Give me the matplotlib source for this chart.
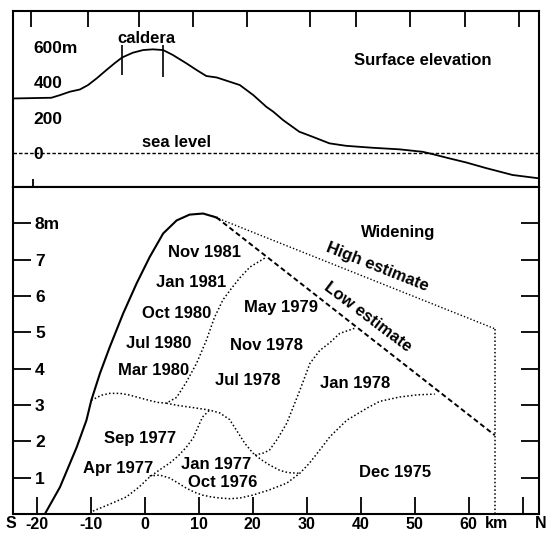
import matplotlib
matplotlib.use("Agg")
import matplotlib.pyplot as plt

plt.rcParams["font.family"] = ["Liberation Sans", "DejaVu Sans"]
plt.rcParams["font.weight"] = "bold"

# ---- Surface elevation profile along the fissure swarm (km, m) ----
elev_km = [-24.5, -17.3, -15.7, -13.9, -12.0, -10.5, -8.9, -7.1, -5.6, -4.2, -2.2,
           -0.3, 1.5, 3.4, 5.2, 7.7, 9.6, 11.4, 13.3, 15.7, 17.6, 20.1, 22.5, 23.8,
           25.6, 28.6, 31.1, 34.2, 37.3, 42.2, 47.2, 51.5, 53.3, 56.4, 59.5, 63.2,
           68.1, 73.0]
elev_m = [309, 313, 328, 347, 360, 385, 423, 470, 508, 541, 568,
          583, 587, 583, 555, 508, 470, 436, 428, 404, 385, 328, 262, 234,
          187, 121, 92, 55, 41, 30, 21, 7, -6, -30, -53, -85,
          -124, -143]

caldera_km = [-4.26, 3.33]
caldera_top = [611, 611]
caldera_bottom = [441, 430]

# ---- Widening profiles (km, m) ----
nov1981_km = [-18.5, -15.7, -12.6, -10.8, -9.9, -8.3, -6.5, -4.0, -1.5, 0.9, 3.4,
              5.9, 8.3, 10.8, 13.3]
nov1981_m = [0.0, 0.74, 1.84, 2.58, 3.13, 3.87, 4.59, 5.52, 6.35, 7.07, 7.72,
             8.08, 8.24, 8.27, 8.16]

low_km = [13.3, 64.8]
low_m = [8.16, 2.17]
high_km = [12.5, 64.8]
high_m = [8.2, 5.1]
edge_km = [64.8, 64.8]
edge_m = [5.1, 0.0]

mar1980_km = [-9.9, -8.0, -6.5, -4.6, -3.0, -1.0, 1.0, 2.5, 4.0, 5.9, 7.7, 9.6,
              11.4, 12.9, 14.5, 16.0, 17.6, 19.5, 22.3]
mar1980_m = [3.13, 3.27, 3.32, 3.32, 3.28, 3.2, 3.12, 3.07, 3.05, 3.21, 3.63, 4.15,
             4.78, 5.41, 5.9, 6.2, 6.5, 6.8, 7.05]

sep1977_km = [4.0, 6.0, 8.9, 12.0, 13.9, 15.7, 17.0, 18.5, 20.0, 21.5, 23.1, 25.0,
              26.5, 28.7]
sep1977_m = [3.05, 2.99, 2.93, 2.86, 2.78, 2.6, 2.3, 1.95, 1.68, 1.5, 1.35, 1.2,
             1.14, 1.12]

nov1978_km = [20.4, 22.0, 23.1, 24.5, 26.3, 27.5, 28.7, 30.6, 32.4, 34.3, 36.1, 39.2]
nov1978_m = [1.62, 1.68, 1.76, 2.05, 2.5, 2.95, 3.4, 4.15, 4.5, 4.72, 4.97, 5.13]

apr1977_km = [-9.6, -6.5, -3.4, -1.0, 0.9, 2.8, 4.6, 6.2, 7.7, 9.0, 9.6, 10.7, 12.0]
apr1977_m = [0.08, 0.27, 0.47, 0.75, 1.02, 1.22, 1.4, 1.6, 1.84, 2.1, 2.31, 2.67, 2.86]

oct1976_km = [0.9, 2.8, 4.6, 6.2, 7.7, 9.2, 10.7, 12.3, 13.9, 15.8, 17.6, 20.0, 23.0,
              26.3, 28.7, 30.5, 32.4, 34.3, 37.4, 41.1, 43.5, 47.2, 50.5, 53.7]
oct1976_m = [1.05, 1.07, 0.99, 0.85, 0.71, 0.6, 0.52, 0.47, 0.44, 0.42, 0.44, 0.52, 0.66,
             0.85, 1.12, 1.4, 1.76, 2.13, 2.58, 2.91, 3.1, 3.22, 3.28, 3.3]

# ---- Date labels (text, km, m) ----
date_labels = [
    ("Nov 1981", 11.1, 7.2), ("Jan 1981", 8.5, 6.37), ("Oct 1980", 5.9, 5.52),
    ("Jul 1980", 2.6, 4.7), ("Mar 1980", 1.7, 3.96), ("May 1979", 25.2, 5.69),
    ("Nov 1978", 22.6, 4.64), ("Jul 1978", 19.1, 3.68), ("Jan 1978", 38.9, 3.6),
    ("Sep 1977", -0.9, 2.09), ("Apr 1977", -5.0, 1.26), ("Jan 1977", 13.3, 1.35),
    ("Oct 1976", 14.4, 0.88), ("Dec 1975", 46.3, 1.13),
]

bottom_ticks = [-20, -10, 0, 10, 20, 30, 40, 50, 60, 70]
bottom_tick_labels = ["-20", "-10", "0", "10", "20", "30", "40", "50", "60", ""]
top_ticks = [-21.1, -10.6, -1.1, 8.9, 18.9, 30.6, 39.1, 49.1, 59.3, 69.3]
elev_ticks = [0, 200, 400, 600]
elev_tick_labels = ["0", "200", "400", "600m"]
width_ticks = [1, 2, 3, 4, 5, 6, 7, 8]
width_tick_labels = ["1", "2", "3", "4", "5", "6", "7", "8m"]

XMIN, XMAX = -24.4, 73.0
FS = 12
DOT = (0, (1.0, 1.5))

fig = plt.figure(figsize=(5.46, 5.33), dpi=100)
W, H = 546.0, 533.0
left, right = 13 / W, 539 / W
ax_top = fig.add_axes([left, 1 - 187 / H, right - left, (187 - 11) / H])
ax_bot = fig.add_axes([left, 1 - 514 / H, right - left, (514 - 187) / H])

for ax in (ax_top, ax_bot):
    ax.set_xlim(XMIN, XMAX)
    for sp in ax.spines.values():
        sp.set_linewidth(1.5)

# ---- Upper panel: surface elevation ----
ax_top.set_ylim(-192, 804)
ax_top.plot(elev_km, elev_m, color="black", lw=1.3)
ax_top.axhline(0, color="black", lw=1.0, ls=(0, (2.5, 1.5)))
ax_top.vlines(caldera_km, caldera_bottom, caldera_top, color="black", lw=1.2)
ax_top.text(0.3, 651, "caldera", ha="center", va="center", fontsize=FS)
ax_top.text(5.9, 62, "sea level", ha="center", va="center", fontsize=FS)
ax_top.text(51.4, 526, "Surface elevation", ha="center", va="center", fontsize=FS)

ax_top.set_yticks(elev_ticks, labels=elev_tick_labels)
ax_top.tick_params(axis="y", length=0, pad=-15.0, labelsize=12.5)
for t in ax_top.get_yticklabels():
    t.set_ha("left")
ax_top.xaxis.set_ticks_position("top")
ax_top.set_xticks(top_ticks)
ax_top.tick_params(axis="x", direction="in", length=11.5, width=1.3, labeltop=False)

sec = ax_top.secondary_xaxis("bottom")
sec.set_xticks([-20.7], labels=[""])
sec.tick_params(direction="inout", length=12, width=1.3)

# ---- Lower panel: widening ----
ax_bot.set_ylim(0, 9)
ax_bot.plot(nov1981_km, nov1981_m, color="black", lw=1.5)
ax_bot.plot(low_km, low_m, color="black", lw=1.4, ls=(0, (2.6, 1.6)))
ax_bot.plot(high_km, high_m, color="black", lw=1.0, ls=DOT)
ax_bot.plot(edge_km, edge_m, color="black", lw=1.1, ls=DOT)
for xs, ys in [(mar1980_km, mar1980_m), (sep1977_km, sep1977_m),
               (nov1978_km, nov1978_m), (apr1977_km, apr1977_m),
               (oct1976_km, oct1976_m)]:
    ax_bot.plot(xs, ys, color="black", lw=1.1, ls=DOT)

for txt, x, y in date_labels:
    ax_bot.text(x, y, txt, ha="center", va="center", fontsize=FS)
ax_bot.text(46.9, 7.75, "Widening", ha="center", va="center", fontsize=FS)
ax_bot.text(43.0, 6.79, "High estimate", ha="center", va="center", fontsize=FS,
            rotation=-21.6, rotation_mode="anchor")
ax_bot.text(41.3, 5.41, "Low estimate", ha="center", va="center", fontsize=FS,
            rotation=-37, rotation_mode="anchor")

ax_bot.set_yticks(width_ticks, labels=width_tick_labels)
ax_bot.tick_params(axis="y", direction="in", length=13, width=1.3,
                   left=True, right=True, pad=-15.8, labelsize=12.5)
for t in ax_bot.get_yticklabels():
    t.set_ha("left")
ax_bot.set_xticks(bottom_ticks, labels=bottom_tick_labels)
ax_bot.tick_params(axis="x", direction="in", length=12.2, width=1.3, pad=2,
                   labelsize=11.5)

xt = ax_bot.get_xaxis_transform()
ax_bot.text(-24.8, -0.028, "S", transform=xt, ha="center", va="center",
            fontsize=11.5, clip_on=False)
ax_bot.text(65.2, -0.028, "km", transform=xt, ha="center", va="center",
            fontsize=11.5, clip_on=False)
ax_bot.text(73.3, -0.028, "N", transform=xt, ha="center", va="center",
            fontsize=11.5, clip_on=False)

fig.savefig("out.png", dpi=100)
